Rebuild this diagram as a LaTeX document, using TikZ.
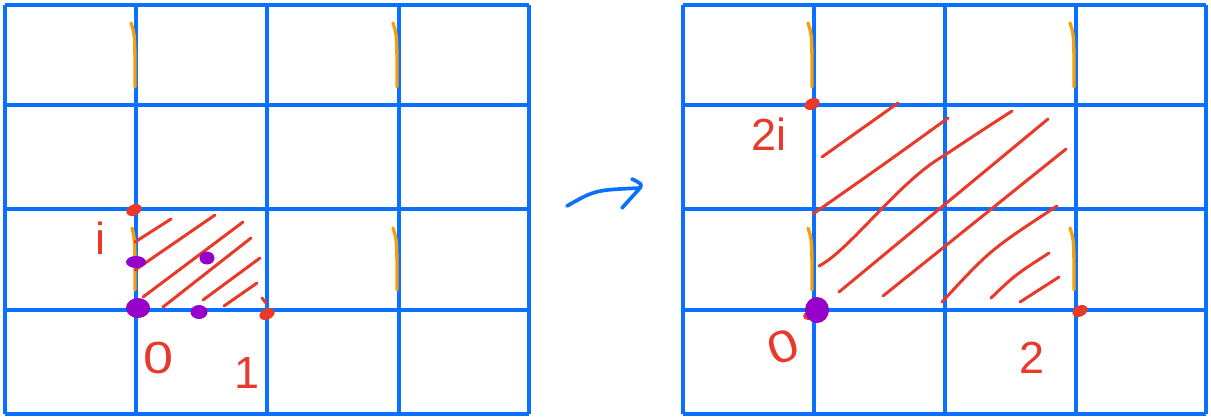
\documentclass[tikz,border=0pt]{standalone}
\usepackage{fontspec}
\setmainfont{Liberation Sans}
\definecolor{gridblue}{RGB}{10,112,255}
\definecolor{hred}{RGB}{232,57,42}
\definecolor{hpurple}{RGB}{150,0,200}
\definecolor{horange}{RGB}{245,160,10}
\tikzset{
  gridline/.style={draw=gridblue,line width=2.4pt},
  hatch/.style={draw=hred,line width=1.8pt,line cap=round},
  tick/.style={draw=horange,line width=2pt,line cap=round},
  reddot/.style={fill=hred},
  purpledot/.style={fill=hpurple},
  lbl/.style={text=hred,font=\fontsize{27}{27}\selectfont,inner sep=0pt},
  arr/.style={draw=gridblue,line width=2.2pt,line cap=round,line join=round}
}
\begin{document}
\begin{tikzpicture}[x=0.6pt,y=-0.6pt]
\useasboundingbox (0,0) rectangle (1211,418);
% left grid
\foreach \x in {5,136,267,399,529} \draw[gridline] (\x,5) -- (\x,414);
\foreach \y in {5,105,209,310,414} \draw[gridline] (5,\y) -- (529,\y);
% right grid
\foreach \x in {683,814,945,1076,1206} \draw[gridline] (\x,5) -- (\x,414);
\foreach \y in {5,105,209,310,414} \draw[gridline] (683,\y) -- (1206,\y);
% orange ticks left
\draw[tick] (131,23) .. controls (135,35) .. (135,87);
\draw[tick] (393,23) .. controls (397,35) .. (397,87);
\draw[tick] (132,228) .. controls (135,240) .. (135,290);
\draw[tick] (393,228) .. controls (397,240) .. (397,290);
% orange ticks right
\draw[tick] (808,23) .. controls (812,35) .. (812,87);
\draw[tick] (1070,23) .. controls (1074,35) .. (1074,87);
\draw[tick] (808,228) .. controls (812,240) .. (812,290);
\draw[tick] (1070,228) .. controls (1074,240) .. (1074,290);
% left hatch
\draw[hatch] (135,242) -- (171,219);
\draw[hatch] (135,270) -- (215,215);
\draw[hatch] (143,297) -- (243,222);
\draw[hatch] (163,307) -- (251,238);
\draw[hatch] (203,300) -- (260,258);
\draw[hatch] (224,306) -- (257,283);
\draw[hatch] (262,298) -- (266,303);
% left dots
\fill[reddot,rotate around={25:(134,210)}] (134,210) ellipse (8 and 5.5);
\fill[reddot,rotate around={25:(267,314)}] (267,314) ellipse (8 and 5.5);
\fill[purpledot] (136,262) ellipse (10 and 6);
\fill[purpledot] (207,258) ellipse (7.5 and 6.5);
\fill[purpledot] (138,308) ellipse (12 and 10);
\fill[purpledot] (199,312) ellipse (8.5 and 7);
% right hatch
\draw[hatch] (822,157) -- (898,103);
\draw[hatch] (813,214) .. controls (890,160) .. (948,118);
\draw[hatch] (819,266) .. controls (850,250) and (900,180) .. (945,155) .. controls (975,135) .. (1012,111);
\draw[hatch] (839,292) -- (1048,119);
\draw[hatch] (883,296) -- (1066,149);
\draw[hatch] (942,302) .. controls (990,250) .. (1057,206);
\draw[hatch] (991,298) .. controls (1015,275) .. (1049,253);
\draw[hatch] (1020,302) -- (1059,277);
% right dots
\fill[reddot,rotate around={25:(812,104)}] (812,104) ellipse (8 and 5.5);
\fill[reddot,rotate around={25:(1080,311)}] (1080,311) ellipse (8 and 5.5);
\fill[reddot] (808,316) ellipse (5 and 4);
\fill[purpledot] (817,310) ellipse (12 and 13);
% labels
\node[lbl] (li) at (100,238) {i};
\node[lbl,xscale=1.2] (l0) at (159,358) {0};
\node[lbl] (l1) at (247,373) {1};
\node[lbl] (r2i) at (769,134) {2i};
\node[lbl,rotate=20,xscale=1.2] (r0) at (783,347) {0};
\node[lbl] (r2) at (1032,358) {2};
% arrow
\coordinate (as) at (567,206);
\coordinate (ae) at (640,188);
\coordinate (ab1) at (632,179);
\coordinate (ab2) at (622,208);
\draw[arr] (as) .. controls (595,190) .. (ae);
\draw[arr] (ab1) .. controls (642,184) .. (ae) -- (ab2);
\end{tikzpicture}
\end{document}
